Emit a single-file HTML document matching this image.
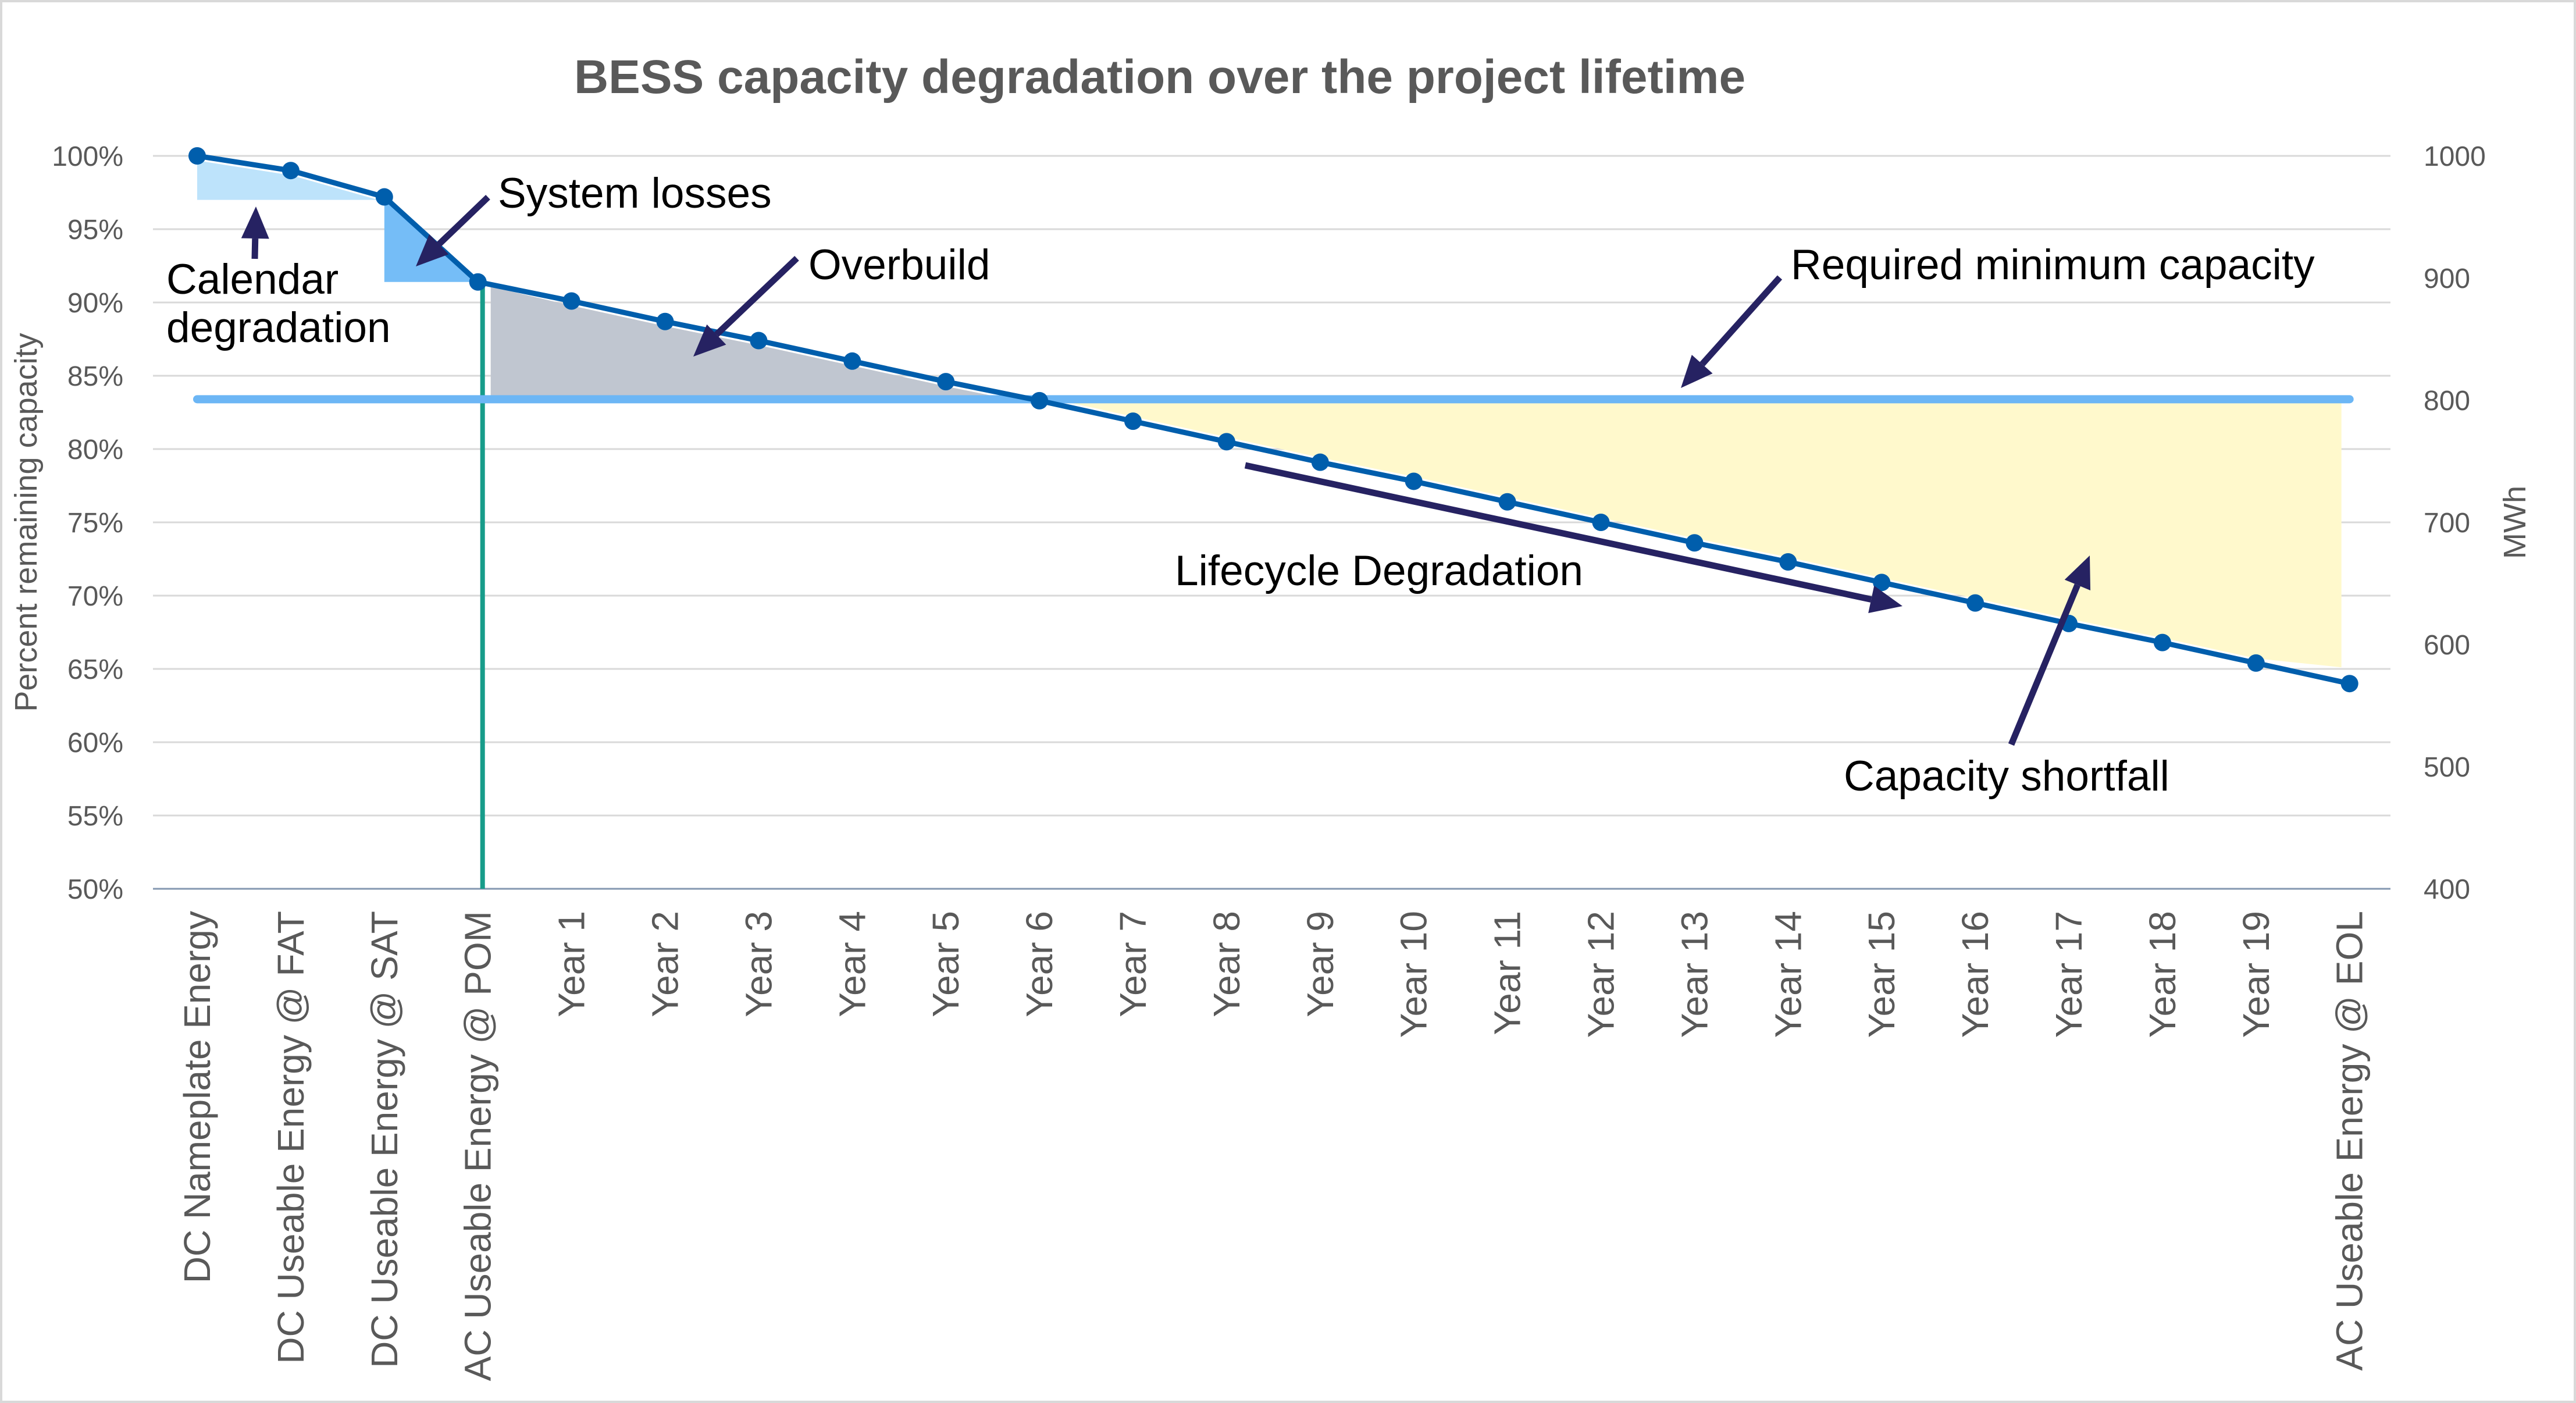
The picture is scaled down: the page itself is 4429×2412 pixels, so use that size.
<!DOCTYPE html>
<html><head><meta charset="utf-8">
<style>
html,body{margin:0;padding:0;background:#fff;}
svg{display:block;font-family:"Liberation Sans",Arial,sans-serif;}
</style></head>
<body>
<svg id="chart" width="4429" height="2412" viewBox="0 0 4429 2412" xmlns="http://www.w3.org/2000/svg">
<rect x="2" y="2" width="4425" height="2408" fill="#fff" stroke="#d9d9d9" stroke-width="4"/>
<text x="1994" y="160" text-anchor="middle" font-size="82" font-weight="bold" fill="#595959">BESS capacity degradation over the project lifetime</text>
<g id="grid"></g>
<g id="areas"></g>
<g id="lines"></g>
<g id="labels"></g>
<g id="annot"></g>
</svg>
<script>
const categories = ["DC Nameplate Energy","DC Useable Energy @ FAT","DC Useable Energy @ SAT","AC Useable Energy @ POM","Year 1","Year 2","Year 3","Year 4","Year 5","Year 6","Year 7","Year 8","Year 9","Year 10","Year 11","Year 12","Year 13","Year 14","Year 15","Year 16","Year 17","Year 18","Year 19","AC Useable Energy @  EOL"];
const capacityPct = [100,99.0,97.2,91.4,90.1,88.7,87.4,86.0,84.6,83.3,81.9,80.5,79.1,77.8,76.4,75.0,73.6,72.3,70.9,69.5,68.1,66.8,65.4,64.0];
const requiredMinPct = 83.4;
const calendarBasePct = 97.0;
const leftTicks = [50,55,60,65,70,75,80,85,90,95,100];
const rightTicks = [400,500,600,700,800,900,1000];

const NS = "http://www.w3.org/2000/svg";
const X0 = 339, DX = 160.9, PL = 263, PR = 4110;
function xs(i){ return X0 + i*DX; }
function ys(p){ return 268 + (100-p)*25.2; }
function yMWh(m){ return ys(50 + (m-400)/12); }
function mk(tag, attrs, parent){ const e=document.createElementNS(NS,tag); for(const k in attrs) e.setAttribute(k,attrs[k]); parent.appendChild(e); return e; }
const grid=document.getElementById('grid'), areas=document.getElementById('areas'), lines=document.getElementById('lines'), labels=document.getElementById('labels'), annot=document.getElementById('annot');

leftTicks.forEach(t=>{
  const y=ys(t);
  if(t>50){ const g=mk('line',{x1:PL,x2:PR,y1:y,y2:y,stroke:'#d9d9d9','stroke-width':3},grid);
  
   }
  const tx=mk('text',{x:212,y:y+17,'text-anchor':'end','font-size':48,fill:'#595959'},labels);
  tx.textContent=t+'%';
  
  
});
const ax=mk('line',{x1:PL,x2:PR,y1:ys(50),y2:ys(50),stroke:'#8497b0','stroke-width':3},grid);


rightTicks.forEach(m=>{
  const tx=mk('text',{x:4167,y:yMWh(m)+17,'font-size':48,fill:'#595959'},labels);
  tx.textContent=m;
  
  
});
let t=mk('text',{x:0,y:0,'text-anchor':'middle','font-size':54,fill:'#595959',transform:'translate(63,898) rotate(-90)'},labels);
t.textContent='Percent remaining capacity';


t=mk('text',{x:0,y:0,'text-anchor':'middle','font-size':54,fill:'#595959',transform:'translate(4342,898) rotate(-90)'},labels);
t.textContent='MWh';


categories.forEach((c,i)=>{
  const tx=mk('text',{x:0,y:0,'text-anchor':'end','font-size':64,fill:'#595959',transform:'translate('+(xs(i)+22)+',1566) rotate(-90)'},labels);
  tx.textContent=c;
  
  
});

function poly(pts,fill,name){ const p=mk('polygon',{points:pts.map(a=>a.join(',')).join(' '),fill:fill},areas);
  
   }
poly([[xs(0),ys(capacityPct[0])+8],[xs(1),ys(capacityPct[1])+8],[xs(2),ys(capacityPct[2])+8],[xs(2),ys(calendarBasePct)],[xs(0),ys(calendarBasePct)]],'#bde3fb','calendar-degradation-area');
poly([[xs(2),ys(capacityPct[2])+6],[xs(3),ys(capacityPct[3])],[xs(2),ys(capacityPct[3])]],'#75bdf7','system-losses-area');
const ov=[[xs(3)+22,ys(capacityPct[3])+8]];
for(let i=4;i<=9;i++) ov.push([xs(i),ys(capacityPct[i])+8]);
ov.push([xs(9),ys(requiredMinPct)],[xs(3)+22,ys(requiredMinPct)]);
poly(ov,'#c0c6d0','overbuild-area');
const sf=[[xs(9),ys(requiredMinPct)]];
for(let i=9;i<=23;i++) sf.push([i===23?xs(i)-14:xs(i),ys(capacityPct[i])-(i===23?28:8)]);
sf.push([xs(23)-14,ys(requiredMinPct)]);
poly(sf,'#fff9cc','capacity-shortfall-area');

let l=mk('line',{x1:xs(3)+8,x2:xs(3)+8,y1:ys(capacityPct[3]),y2:ys(50),stroke:'#179c8a','stroke-width':8},lines);


l=mk('line',{x1:xs(0),x2:xs(23),y1:ys(requiredMinPct),y2:ys(requiredMinPct),stroke:'#6cb6f5','stroke-width':14,'stroke-linecap':'round'},lines);


const pl=mk('polyline',{points:capacityPct.map((p,i)=>xs(i)+','+ys(p)).join(' '),fill:'none',stroke:'#005eac','stroke-width':9},lines);


capacityPct.forEach((p,i)=>{
  const c=mk('circle',{cx:xs(i),cy:ys(p),r:15,fill:'#005eac'},lines);
  
  
});

function arrow(x1,y1,x2,y2,name){
  const a=Math.atan2(y2-y1,x2-x1), L=55, W=24;
  const bx=x2-L*Math.cos(a), by=y2-L*Math.sin(a);
  const g=mk('g',{},annot);
  
  
  mk('line',{x1:x1,y1:y1,x2:bx,y2:by,stroke:'#262262','stroke-width':11},g);
  mk('polygon',{points:[x2+','+y2,(bx+W*Math.sin(a))+','+(by-W*Math.cos(a)),(bx-W*Math.sin(a))+','+(by+W*Math.cos(a))].join(' '),fill:'#262262'},g);
}
function label(x,y,s,name){ const tx=mk('text',{x:x,y:y,'font-size':73,fill:'#000'},annot);
  tx.textContent=s;
  
   }
arrow(438,445,440,355,'calendar-arrow');
label(286,505,'Calendar','calendar-label-1');
label(286,588,'degradation','calendar-label-2');
arrow(839,339,715,458,'system-losses-arrow');
label(856,357,'System losses','system-losses-label');
arrow(1370,444,1192,613,'overbuild-arrow');
label(1390,480,'Overbuild','overbuild-label');
arrow(3060,477,2890,667,'required-min-arrow');
label(3079,480,'Required minimum capacity','required-min-label');
arrow(2141,800,3271,1042,'lifecycle-arrow');
label(2020,1006,'Lifecycle Degradation','lifecycle-label');
arrow(3458,1280,3593,955,'shortfall-arrow');
label(3170,1359,'Capacity shortfall','shortfall-label');
</script>
</body></html>
